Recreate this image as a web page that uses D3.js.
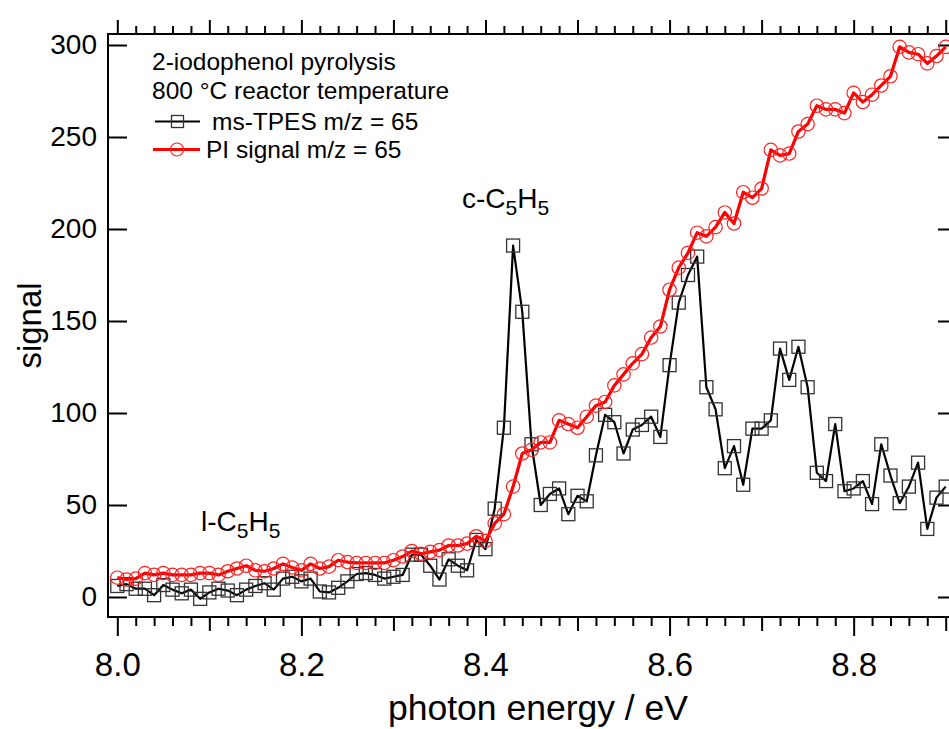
<!DOCTYPE html>
<html>
<head>
<meta charset="utf-8">
<script src="https://cdn.jsdelivr.net/npm/d3@7"></script>
<style>
  body { margin: 0; background: #fff; }
  text { font-family: "Liberation Sans", Arial, Helvetica, sans-serif; }
</style>
</head>
<body>
<script>
// photon energies (eV), one point every 10 meV
const energy = [
  8.00, 8.01, 8.02, 8.03, 8.04, 8.05, 8.06, 8.07, 8.08, 8.09,
  8.10, 8.11, 8.12, 8.13, 8.14, 8.15, 8.16, 8.17, 8.18, 8.19,
  8.20, 8.21, 8.22, 8.23, 8.24, 8.25, 8.26, 8.27, 8.28, 8.29,
  8.30, 8.31, 8.32, 8.33, 8.34, 8.35, 8.36, 8.37, 8.38, 8.39,
  8.40, 8.41, 8.42, 8.43, 8.44, 8.45, 8.46, 8.47, 8.48, 8.49,
  8.50, 8.51, 8.52, 8.53, 8.54, 8.55, 8.56, 8.57, 8.58, 8.59,
  8.60, 8.61, 8.62, 8.63, 8.64, 8.65, 8.66, 8.67, 8.68, 8.69,
  8.70, 8.71, 8.72, 8.73, 8.74, 8.75, 8.76, 8.77, 8.78, 8.79,
  8.80, 8.81, 8.82, 8.83, 8.84, 8.85, 8.86, 8.87, 8.88, 8.89,
  8.90
];

// ms-TPES m/z = 65
const tpes = [
  6, 7, 4.5, 4.5, 1, 6.5, 4, 2, 4, -1,
  2.5, 4.5, 3.5, 1, 4, 6, 7.5, 4, 10, 11,
  8.5, 10, 3, 2.5, 5, 8.5, 12.5, 13, 12, 10,
  11, 12, 23, 23, 17, 9.5, 20.5, 17, 14.5, 31,
  26, 48, 92, 191, 155, 83, 50, 56, 59, 45,
  55, 52, 77, 99, 95, 78, 91, 93.5, 98, 87,
  126, 160, 175, 185, 114, 102, 70, 82, 61, 91.5,
  91.5, 96, 135, 118, 136, 114, 67.5, 63, 94, 57.5,
  59, 63, 50.5, 83, 66, 51, 60, 73, 37, 54,
  60
];

// PI signal m/z = 65
const piSignal = [
  10.5, 9.5, 10, 13, 12, 13, 12, 12, 12, 13,
  13, 12, 14, 15.5, 17, 14.5, 14, 15.5, 18, 16,
  14.5, 18, 15.5, 16.5, 20, 19, 18.5, 18.5, 18.5, 18.5,
  20, 22, 25, 23.5, 24.5, 25.5, 28, 28, 29, 33,
  30.5, 40, 45, 60, 78, 80, 84, 84, 96, 94,
  92, 98, 104, 106, 115, 121, 127, 132, 141, 147,
  167, 179, 187, 198, 196, 201, 209, 203, 220, 217,
  222, 243, 240, 241, 253, 257, 267, 265, 265, 263,
  274, 269, 273, 278, 283, 299, 296, 295, 290, 294,
  299
];

const xTickLabels = [8.0, 8.2, 8.4, 8.6, 8.8];
const yTickLabels = [0, 50, 100, 150, 200, 250, 300];

document.addEventListener('DOMContentLoaded', () => {
  const W = 949, H = 729;
  const left = 108, right = 950, top = 34, bottom = 617;

  const svg = d3.select('body').append('svg')
    .attr('width', W)
    .attr('height', H);

  const xScale = d3.scaleLinear().domain([8.0, 8.9]).range([117.3, 945.7]);
  const yScale = d3.scaleLinear().domain([0, 300]).range([597, 45]);

  const tpesData = energy.map((e, i) => ({ x: e, y: tpes[i] }));
  const piData = energy.map((e, i) => ({ x: e, y: piSignal[i] }));

  // ticks every 20 meV
  const fine = d3.range(0, 46).map(i => +(8.0 + i * 0.02).toFixed(2));
  const isMul = (v, step) => Math.abs(Math.round(v / step) * step - v) < 1e-6;

  // bottom axis
  const xAxis = d3.axisBottom(xScale)
    .tickValues(fine)
    .tickSize(0)
    .tickFormat('');
  const gx = svg.append('g')
    .attr('transform', 'translate(0,' + bottom + ')')
    .call(xAxis);
  gx.select('.domain').remove();
  gx.selectAll('.tick line')
    .attr('y2', d => isMul(d, 0.2) ? 19 : (isMul(d, 0.1) ? 14 : 9))
    .attr('stroke', '#000').attr('stroke-width', 2);
  gx.selectAll('.tick').filter(d => xTickLabels.some(v => Math.abs(v - d) < 1e-6))
    .append('text')
    .attr('y', 59)
    .attr('text-anchor', 'middle')
    .attr('fill', '#000')
    .style('font-size', '33px')
    .text(d => d.toFixed(1));

  // top axis, ticks outward
  const gt = svg.append('g')
    .attr('transform', 'translate(0,' + top + ')')
    .call(d3.axisTop(xScale).tickValues(fine).tickSize(0).tickFormat(''));
  gt.select('.domain').remove();
  gt.selectAll('.tick line')
    .attr('y2', d => isMul(d, 0.1) ? -14 : -8)
    .attr('stroke', '#000').attr('stroke-width', 2);

  // left axis, ticks inward
  const gy = svg.append('g')
    .attr('transform', 'translate(' + left + ',0)')
    .call(d3.axisLeft(yScale).tickValues(yTickLabels).tickSize(0).tickPadding(11));
  gy.select('.domain').remove();
  gy.selectAll('.tick line').attr('x2', 19).attr('stroke', '#000').attr('stroke-width', 2);
  gy.selectAll('.tick text')
    .attr('fill', '#000')
    .style('font-size', '28px')
    .style('font-family', '"Liberation Sans", Arial, sans-serif');

  // right axis, ticks inward
  const gr = svg.append('g')
    .attr('transform', 'translate(' + right + ',0)')
    .call(d3.axisRight(yScale).tickValues(yTickLabels).tickSize(0).tickFormat(''));
  gr.select('.domain').remove();
  gr.selectAll('.tick line').attr('x2', -12).attr('stroke', '#000').attr('stroke-width', 2);

  // frame
  svg.append('rect')
    .attr('x', left).attr('y', top)
    .attr('width', right - left).attr('height', bottom - top)
    .attr('fill', 'none').attr('stroke', '#000').attr('stroke-width', 2);

  const plot = svg.append('g');

  const line = d3.line().x(d => xScale(d.x)).y(d => yScale(d.y));

  // ms-TPES
  plot.append('path')
    .datum(tpesData)
    .attr('d', line)
    .attr('fill', 'none')
    .attr('stroke', '#000')
    .attr('stroke-width', 2.2)
    .attr('stroke-linejoin', 'round');
  plot.selectAll('.sq')
    .data(tpesData)
    .enter().append('rect')
    .attr('class', 'sq')
    .attr('x', d => xScale(d.x) - 6.5)
    .attr('y', d => yScale(d.y) - 6.5)
    .attr('width', 13).attr('height', 13)
    .attr('fill', 'none')
    .attr('stroke', '#333')
    .attr('stroke-width', 1.3);

  // PI signal
  plot.append('path')
    .datum(piData)
    .attr('d', line)
    .attr('fill', 'none')
    .attr('stroke', '#ff0000')
    .attr('stroke-width', 3.2)
    .attr('stroke-linejoin', 'round');
  plot.selectAll('.ci')
    .data(piData)
    .enter().append('circle')
    .attr('class', 'ci')
    .attr('cx', d => xScale(d.x))
    .attr('cy', d => yScale(d.y))
    .attr('r', 6.7)
    .attr('fill', 'none')
    .attr('stroke', '#f22')
    .attr('stroke-width', 1.2);

  // legend
  const lg = svg.append('g').style('font-size', '24.5px');
  lg.append('text').attr('x', 152).attr('y', 70).text('2-iodophenol pyrolysis');
  lg.append('text').attr('x', 152).attr('y', 99).text('800 °C reactor temperature');

  lg.append('line').attr('x1', 155).attr('x2', 200).attr('y1', 121.5).attr('y2', 121.5)
    .attr('stroke', '#000').attr('stroke-width', 2.2);
  lg.append('rect').attr('x', 171.5).attr('y', 115.5).attr('width', 12).attr('height', 12)
    .attr('fill', 'none').attr('stroke', '#333').attr('stroke-width', 1.3);
  lg.append('text').attr('x', 212).attr('y', 130).text('ms-TPES m/z = 65');

  lg.append('line').attr('x1', 153).attr('x2', 200).attr('y1', 149.5).attr('y2', 149.5)
    .attr('stroke', '#ff0000').attr('stroke-width', 3.2);
  lg.append('circle').attr('cx', 177).attr('cy', 149.5).attr('r', 6.5)
    .attr('fill', 'none').attr('stroke', '#f22').attr('stroke-width', 1.2);
  lg.append('text').attr('x', 206).attr('y', 158).text('PI signal m/z = 65');

  // peak labels
  const c5 = svg.append('text').attr('x', 462).attr('y', 208).style('font-size', '28px');
  c5.append('tspan').text('c-C');
  c5.append('tspan').attr('dy', 7).style('font-size', '21px').text('5');
  c5.append('tspan').attr('dy', -7).text('H');
  c5.append('tspan').attr('dy', 7).style('font-size', '21px').text('5');

  const l5 = svg.append('text').attr('x', 201).attr('y', 531).style('font-size', '28px');
  l5.append('tspan').text('l-C');
  l5.append('tspan').attr('dy', 7).style('font-size', '21px').text('5');
  l5.append('tspan').attr('dy', -7).text('H');
  l5.append('tspan').attr('dy', 7).style('font-size', '21px').text('5');

  // axis titles
  svg.append('text')
    .attr('transform', 'translate(41,' + ((top + bottom) / 2) + ') rotate(-90)')
    .attr('text-anchor', 'middle')
    .style('font-size', '33px')
    .text('signal');
  svg.append('text')
    .attr('x', 538).attr('y', 720)
    .attr('text-anchor', 'middle')
    .style('font-size', '35.5px')
    .text('photon energy / eV');
});
</script>
</body>
</html>
